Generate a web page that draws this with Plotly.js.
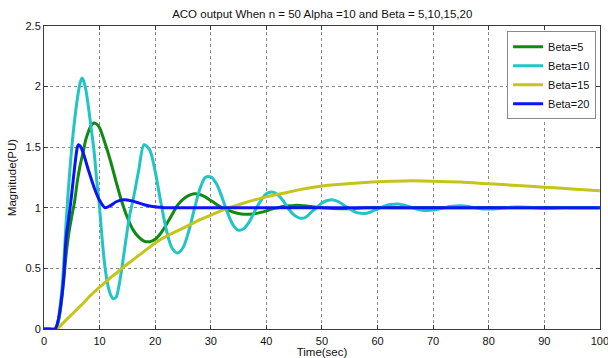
<!DOCTYPE html>
<html>
<head>
<meta charset="utf-8">
<script src="https://cdn.plot.ly/plotly-3.0.1.min.js"></script>
<style>html,body{margin:0;padding:0;background:#fff;}#chart{width:608px;height:358px;}</style>
</head>
<body>
<div id="chart"></div>
<script>
// Beta = 5 (green)
const tBeta5 = [0,1,2,2.5,3,3.5,4,4.5,5,5.5,6,6.5,7,7.5,8,8.5,9,9.5,10,11,12,13,14,15,16,17,18,19,20,21,22,23,24,25,26,27,28,29,30,31,32,33,34,35,36,37,38,39,40,41,42,43,44,45,46,47,48,49,50,52,54,56,58,60,65,70,80,90,100];
const vBeta5 = [0,0,0,0.05,0.17,0.38,0.62,0.8,0.93,1.05,1.22,1.35,1.45,1.56,1.63,1.68,1.70,1.69,1.66,1.53,1.38,1.21,1.05,0.92,0.82,0.76,0.725,0.72,0.74,0.79,0.86,0.94,1.02,1.07,1.10,1.115,1.11,1.09,1.06,1.03,1.0,0.98,0.965,0.953,0.947,0.947,0.952,0.962,0.975,0.99,1.0,1.01,1.016,1.02,1.02,1.017,1.01,1.005,1.0,0.995,0.993,0.995,1.0,1.002,1.0,1.0,1.0,1.0,1.0];

// Beta = 10 (cyan)
const tBeta10 = [0,1,2,2.5,3,3.5,4,4.5,5,5.5,6,6.5,6.8,7,7.5,8,8.5,9,9.5,10,10.5,11,11.5,12,12.5,13,13.5,14,14.5,15,15.5,16,17,18,19,20,21,22,23,24,25,26,27,28,29,30,31,32,33,34,35,36,37,38,39,40,41,42,43,44,45,46,47,48,49,50,51,52,53,54,55,56,57,58,59,60,61,62,63,64,65,66,67,68,69,70,71,72,73,74,75,76,77,78,79,80,81,82,83,84,85,86,87,88,89,90,91,92,93,94,95,100];
const vBeta10 = [0,0,0,0.06,0.22,0.5,0.9,1.22,1.5,1.72,1.9,2.03,2.07,2.06,1.98,1.83,1.65,1.47,1.22,1.0,0.72,0.5,0.36,0.28,0.25,0.265,0.36,0.5,0.66,0.82,0.96,1.06,1.3,1.52,1.48,1.3,1.05,0.82,0.67,0.627,0.67,0.8,0.98,1.15,1.25,1.255,1.2,1.09,0.96,0.86,0.815,0.83,0.89,0.98,1.06,1.115,1.13,1.11,1.06,0.99,0.94,0.915,0.92,0.96,1.0,1.04,1.06,1.065,1.05,1.02,0.99,0.965,0.955,0.955,0.97,0.99,1.01,1.025,1.03,1.03,1.02,1.005,0.99,0.98,0.978,0.982,0.99,1.0,1.01,1.015,1.016,1.012,1.005,0.997,0.991,0.99,0.991,0.995,1.0,1.005,1.007,1.007,1.005,1.001,0.997,0.995,0.995,0.997,1.0,1.002,1.0,1.0];

// Beta = 15 (yellow)
const tBeta15 = [0,1,2,2.3,3,4,5,6,7,8,9,10,11,12,13,14,16,18,20,22,24,26,28,30,33,36,40,43,46,50,55,60,65,70,75,80,85,90,95,100];
const vBeta15 = [0,0,0,0,0.03,0.075,0.12,0.165,0.21,0.26,0.305,0.345,0.385,0.425,0.46,0.5,0.57,0.64,0.71,0.765,0.81,0.855,0.9,0.94,0.995,1.04,1.09,1.12,1.15,1.18,1.2,1.215,1.222,1.22,1.212,1.198,1.185,1.17,1.155,1.14];

// Beta = 20 (blue)
const tBeta20 = [0,1,2,2.5,3,3.5,4,4.5,5,5.5,6,6.2,6.5,7,8,9,10,11,12,13,14,15,16,17,18,19,20,21,22,25,30,40,50,60,70,80,90,100];
const vBeta20 = [0,0,0,0.06,0.2,0.4,0.76,0.93,1.12,1.33,1.50,1.52,1.51,1.46,1.31,1.17,1.06,1.0,1.02,1.05,1.065,1.065,1.055,1.04,1.025,1.015,1.008,1.004,1.0,1.0,1.0,1.0,1.0,1.0,1.0,1.0,1.0,1.0];

const seriesNames = ['Beta=5','Beta=10','Beta=15','Beta=20'];
const xTicks = [0,10,20,30,40,50,60,70,80,90,100];
const yTicks = [0,0.5,1,1.5,2,2.5];
const yTickText = ['0','0.5','1','1.5','2','2.5'];

const colors = ['#0f8a12','#22c4c4','#c4c41a','#0a14f5'];
const xs = [tBeta5,tBeta10,tBeta15,tBeta20];
const ys = [vBeta5,vBeta10,vBeta15,vBeta20];

const traces = xs.map((x,i)=>({
  x: x, y: ys[i], type: 'scatter', mode: 'lines', name: seriesNames[i],
  line: {color: colors[i], width: 3, shape: 'spline', smoothing: 0.8}
}));

const FONT = 'Liberation Sans, Arial, sans-serif';
const axisCommon = {
  showgrid: true, gridcolor: '#8a8a8a', griddash: 'dot', gridwidth: 1,
  showline: true, linecolor: '#3a3a3a', linewidth: 1, mirror: 'ticks',
  ticks: 'inside', ticklen: 4, tickcolor: '#3a3a3a',
  zeroline: false, tickfont: {family: FONT, size: 11, color: '#111'},
  ticklabeloverflow: 'allow'
};

const layout = {
  width: 608, height: 358,
  margin: {l: 44, r: 8, t: 26, b: 29},
  paper_bgcolor: '#fff', plot_bgcolor: '#fff',
  title: {text: 'ACO output When n = 50 Alpha =10 and Beta = 5,10,15,20',
          font: {family: FONT, size: 11.5, color: '#111'},
          x: 0.53, xanchor: 'center', y: 0.962, yanchor: 'middle'},
  xaxis: Object.assign({}, axisCommon, {
    range: [0,100.02], tickvals: xTicks, ticktext: xTicks.map(String),
    ticklabelstandoff: 2,
    title: {text: 'Time(sec)', font: {family: FONT, size: 11.5, color: '#111'}, standoff: 0}
  }),
  yaxis: Object.assign({}, axisCommon, {
    range: [0,2.5], tickvals: yTicks, ticktext: yTickText,
    title: {text: 'Magnitude(PU)', font: {family: FONT, size: 11.5, color: '#111'}, standoff: 6}
  }),
  legend: {x: 0.993, xanchor: 'right', y: 0.983, yanchor: 'top',
           bgcolor: '#fff', bordercolor: '#888', borderwidth: 1,
           font: {family: FONT, size: 11, color: '#111'},
           tracegroupgap: 0, itemwidth: 30},
  showlegend: true
};

Plotly.newPlot('chart', traces, layout, {displayModeBar: false, staticPlot: true});
</script>
</body>
</html>
